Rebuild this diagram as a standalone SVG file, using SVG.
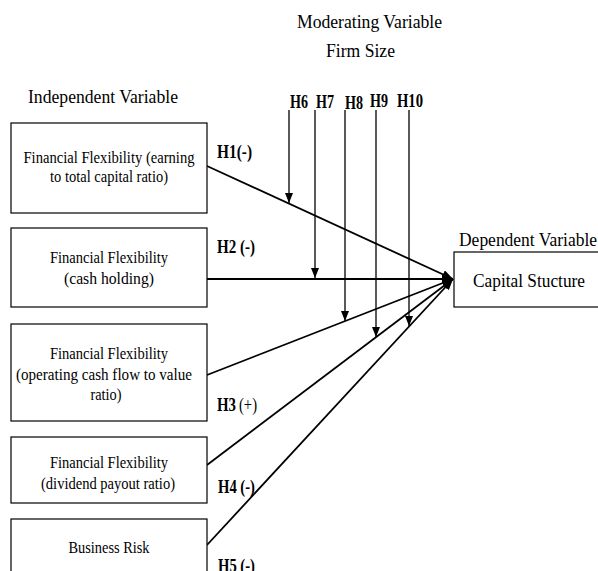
<svg xmlns="http://www.w3.org/2000/svg" width="598" height="571" viewBox="0 0 598 571">
<style>
  text { font-family: "Liberation Serif", "Times New Roman", serif; fill: #000; }
  .title { font-size: 19px; }
  .box { fill: #fff; stroke: #000; stroke-width: 1.2; }
  .bt { font-size: 16px; text-anchor: middle; }
  .lbl { font-size: 18px; font-weight: bold; }
  .lbn { font-size: 18px; }
  .main { stroke: #000; stroke-width: 1.8; fill: none; marker-end: url(#ah); }
  .mod { stroke: #000; stroke-width: 1.3; fill: none; marker-end: url(#ahs); }
</style>
<defs>
  <marker id="ah" markerUnits="userSpaceOnUse" markerWidth="12" markerHeight="9" refX="11" refY="4.5" orient="auto">
    <path d="M0,0 L11,4.5 L0,9 z" fill="#000"/>
  </marker>
  <marker id="ahs" markerUnits="userSpaceOnUse" markerWidth="10" markerHeight="8" refX="10" refY="4" orient="auto">
    <path d="M0,0 L10,4 L0,8 z" fill="#000"/>
  </marker>
</defs>

<g id="titles">
  <text class="title" x="297" y="28" textLength="145" lengthAdjust="spacingAndGlyphs">Moderating Variable</text>
  <text class="title" x="326" y="57" textLength="69" lengthAdjust="spacingAndGlyphs">Firm Size</text>
  <text class="title" x="28" y="103" textLength="150" lengthAdjust="spacingAndGlyphs">Independent Variable</text>
  <text class="title" x="459" y="246" textLength="138" lengthAdjust="spacingAndGlyphs">Dependent Variable</text>
</g>

<g id="connectors">
  <line class="main" x1="207" y1="166" x2="453" y2="279"/>
  <line class="main" x1="207" y1="279" x2="453" y2="279"/>
  <line class="main" x1="207" y1="375" x2="453" y2="279"/>
  <line class="main" x1="207" y1="465" x2="453" y2="279"/>
  <line class="main" x1="207" y1="545" x2="453" y2="279"/>
  <line class="mod" x1="289" y1="110" x2="289" y2="203"/>
  <line class="mod" x1="315" y1="110" x2="315" y2="278"/>
  <line class="mod" x1="345" y1="110" x2="345" y2="321"/>
  <line class="mod" x1="376" y1="110" x2="376" y2="337"/>
  <line class="mod" x1="409" y1="110" x2="409" y2="326"/>
</g>

<g id="labels">
  <text class="lbl" x="217" y="158" textLength="35" lengthAdjust="spacingAndGlyphs">H1(-)</text>
  <text class="lbl" x="217" y="253" textLength="38" lengthAdjust="spacingAndGlyphs">H2 (-)</text>
  <text class="lbl" x="217" y="411" textLength="19" lengthAdjust="spacingAndGlyphs">H3</text>
  <text class="lbn" x="239" y="411" textLength="18" lengthAdjust="spacingAndGlyphs">(+)</text>
  <text class="lbl" x="218" y="493" textLength="37" lengthAdjust="spacingAndGlyphs">H4 (-)</text>
  <text class="lbl" x="218" y="572" textLength="37" lengthAdjust="spacingAndGlyphs">H5 (-)</text>
  <text class="lbl" x="290" y="108" textLength="18" lengthAdjust="spacingAndGlyphs">H6</text>
  <text class="lbl" x="316" y="108" textLength="18" lengthAdjust="spacingAndGlyphs">H7</text>
  <text class="lbl" x="345" y="108.5" textLength="18" lengthAdjust="spacingAndGlyphs">H8</text>
  <text class="lbl" x="370" y="106.5" textLength="18" lengthAdjust="spacingAndGlyphs">H9</text>
  <text class="lbl" x="397" y="107" textLength="26" lengthAdjust="spacingAndGlyphs">H10</text>
</g>

<g id="node-ff-earning">
  <rect class="box" x="11" y="123" width="196" height="90"/>
  <text class="bt" x="109" y="163" textLength="171" lengthAdjust="spacingAndGlyphs">Financial Flexibility (earning</text>
  <text class="bt" x="109" y="182" textLength="118" lengthAdjust="spacingAndGlyphs">to total capital ratio)</text>
</g>

<g id="node-ff-cash">
  <rect class="box" x="11" y="228" width="196" height="79"/>
  <text class="bt" x="109" y="263" textLength="118" lengthAdjust="spacingAndGlyphs">Financial Flexibility</text>
  <text class="bt" x="109" y="284" textLength="90" lengthAdjust="spacingAndGlyphs">(cash holding)</text>
</g>

<g id="node-ff-ocf">
  <rect class="box" x="11" y="324" width="196" height="97"/>
  <text class="bt" x="109" y="359" textLength="118" lengthAdjust="spacingAndGlyphs">Financial Flexibility</text>
  <text class="bt" x="104" y="380" textLength="176" lengthAdjust="spacingAndGlyphs">(operating cash flow to value</text>
  <text class="bt" x="106" y="400" textLength="31" lengthAdjust="spacingAndGlyphs">ratio)</text>
</g>

<g id="node-ff-dividend">
  <rect class="box" x="11" y="437" width="196" height="66"/>
  <text class="bt" x="109" y="468" textLength="118" lengthAdjust="spacingAndGlyphs">Financial Flexibility</text>
  <text class="bt" x="108" y="489" textLength="134" lengthAdjust="spacingAndGlyphs">(dividend payout ratio)</text>
</g>

<g id="node-business-risk">
  <rect class="box" x="11" y="519" width="196" height="70"/>
  <text class="bt" x="109" y="553" textLength="81" lengthAdjust="spacingAndGlyphs">Business Risk</text>
</g>

<g id="node-capital-structure">
  <rect class="box" x="454" y="252" width="160" height="55"/>
  <text x="473" y="287" font-size="19" textLength="112" lengthAdjust="spacingAndGlyphs">Capital Stucture</text>
</g>
</svg>
